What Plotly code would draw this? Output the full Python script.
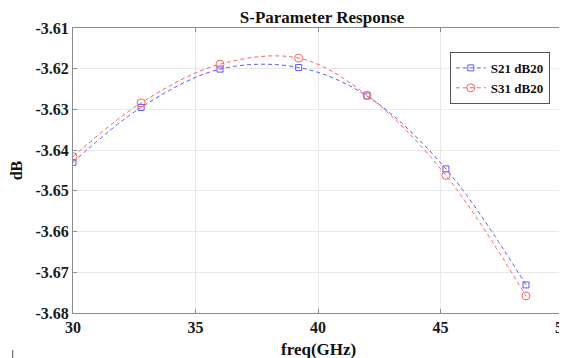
import plotly.graph_objects as go

freq = [30.0, 32.78, 36.0, 39.21, 42.0, 45.22, 48.49]
s21 = [-3.6430, -3.6295, -3.6201, -3.6197, -3.6267, -3.6446, -3.6731]
s31 = [-3.6416, -3.6284, -3.6189, -3.6174, -3.6265, -3.6462, -3.6758]
x_ticks = [30, 35, 40, 45, 50]
y_ticks = [-3.61, -3.62, -3.63, -3.64, -3.65, -3.66, -3.67, -3.68]
y_tick_text = ["-3.61", "-3.62", "-3.63", "-3.64", "-3.65", "-3.66", "-3.67", "-3.68"]

FONT = "Liberation Serif, Times New Roman, serif"

fig = go.Figure()
fig.add_trace(go.Scatter(
    x=freq, y=s21, name="<b>S21 dB20</b>", mode="lines+markers",
    line=dict(color="#5a5aff", width=1, dash="4px,3px", shape="spline", smoothing=1.0),
    marker=dict(symbol="square-open", size=6, color="#5a5aff", line=dict(width=1)),
))
fig.add_trace(go.Scatter(
    x=freq, y=s31, name="<b>S31 dB20</b>", mode="lines+markers",
    line=dict(color="#ff6060", width=1, dash="4px,3px", shape="spline", smoothing=1.0),
    marker=dict(symbol="circle-open", size=8, color="#ff6060", line=dict(width=1)),
))

axis_common = dict(
    showgrid=True, gridcolor="#e8e8e8", gridwidth=1,
    showline=True, linecolor="#8c8c8c", linewidth=1, mirror="ticks",
    ticks="inside", ticklen=4, tickcolor="#8c8c8c",
    zeroline=False, automargin=False,
    tickfont=dict(family=FONT, size=16, color="#1a1a1a"),
)

# page has an 8px body margin, so the figure is offset by (8, 8)
fig.update_layout(
    width=559, height=350,
    margin=dict(l=65, r=4, t=20, b=45),
    paper_bgcolor="white", plot_bgcolor="white",
    title=dict(text="<b>S-Parameter Response</b>", x=0.5618, xanchor="center",
               y=1 - 9 / 350, yanchor="middle",
               font=dict(family=FONT, size=17, color="#111111")),
    xaxis=dict(range=[30, 50], tickvals=x_ticks, ticktext=[f"<b>{t}</b>" for t in x_ticks],
               ticklabeloverflow="allow", **axis_common),
    yaxis=dict(range=[-3.68, -3.61], tickvals=y_ticks, ticktext=[f"<b>{t}</b>" for t in y_tick_text],
               title=dict(text="<b>dB</b>", font=dict(family=FONT, size=16, color="#111111"), standoff=10),
               **axis_common),
    legend=dict(x=0.769, y=0.916, xanchor="left", yanchor="top",
                bgcolor="white", bordercolor="#555555", borderwidth=1,
                font=dict(family=FONT, size=13, color="#111111"),
                tracegroupgap=0, itemwidth=30),
    showlegend=True,
)

fig.add_annotation(text="<b>freq(GHz)</b>", xref="paper", yref="paper",
                   x=0.5, y=-0.1298, xanchor="center", yanchor="middle",
                   showarrow=False, font=dict(family=FONT, size=17, color="#111111"))

fig.add_shape(type="line", xref="paper", yref="paper",
              x0=-0.123, x1=-0.123, y0=-0.13, y1=-0.158,
              line=dict(color="#555555", width=1))

fig.write_html("out.html")
